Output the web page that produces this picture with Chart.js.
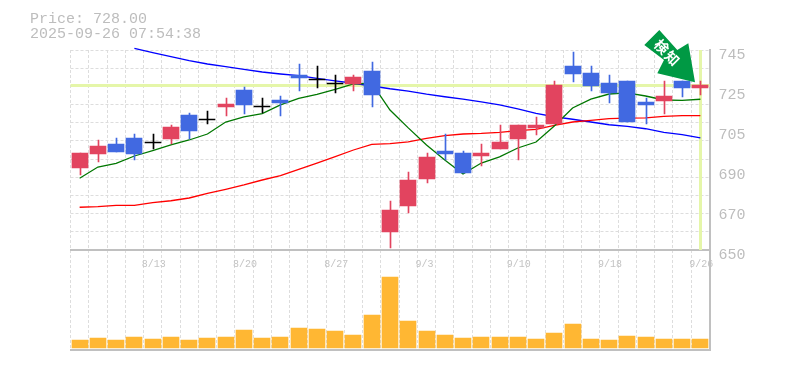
<!DOCTYPE html>
<html><head><meta charset="utf-8">
<style>html,body{margin:0;padding:0;background:#fff}#w{width:785px;height:370px;position:relative}</style>
<script src="https://cdn.jsdelivr.net/npm/chart.js@4"></script></head>
<body><div id="w"><canvas id="c" width="785" height="370"></canvas></div>
<script>
const categories=['8/6','8/7','8/8','8/12','8/13','8/14','8/15','8/18','8/19','8/20','8/21','8/22','8/25','8/26','8/27','8/28','8/29','9/1','9/2','9/3','9/4','9/5','9/8','9/9','9/10','9/11','9/12','9/16','9/17','9/18','9/19','9/22','9/24','9/25','9/26'];
const shownDates=['8/13','8/20','8/27','9/3','9/10','9/18','9/26'];
const open=[689,695.6,700.35,703.2,701.15,702.7,714.1,712.2,717.9,726,718.25,721.25,733.1,731.2,729.3,728.85,735,658.55,670.9,683.7,697,696.1,694.65,698,702.7,708,709.85,737.4,734,729.3,730.3,720.3,720.8,730.3,727];
const close=[696,699.4,696.55,695.6,701.15,708.4,706.5,712.2,719.35,718.9,718.25,719.8,731.7,731.2,729.3,732.2,723.6,669,683.25,694.2,695.6,686.6,696.1,701.3,709.4,709.4,728.4,733.6,727.9,724.6,710.8,718.9,723.15,727,728.4];
const high=[696,702.25,703.2,705.1,705.1,709.2,715.1,716,722.2,727.4,722.2,723.15,738.35,737.4,733.1,733.1,739.3,673.3,687,696,705.1,697,700.35,709.4,709.4,713.2,730.3,744,737.4,733.1,730.3,722.2,730.3,730.3,730.3];
const low=[685.5,691.8,696.55,692.75,698,700.35,702.7,709.85,713.65,714.6,715.1,713.65,725.5,726.95,724.7,725.5,717.9,651,667.6,681.8,692.75,686.6,689.9,698,692.75,704.6,709.85,729.8,725.5,719.8,710.8,709.85,714.6,722.7,723.6];
const maShort=[684.06,689.4,691.2,694.65,697.2,699.9,702.25,705.1,710.8,713.2,714.8,718.9,722.05,723.95,726.35,728.85,729.3,716.5,708,699.9,692.75,686.1,691.3,694.2,698.45,701.3,708.9,717.45,721.7,724.1,724.6,723.15,721.25,721.1,721.6];
const maMid=[670.3,670.6,671.2,671.2,672.5,673.4,674.7,676.9,678.8,680.9,683.25,685.3,688.3,691.3,694.3,697.5,700.2,700.5,701.4,703,704.3,705.1,705.4,705.9,706.7,707.3,709.2,710.8,711.6,712.4,712.6,712.8,713.5,713.8,713.8];
const maLong=[null,null,null,745.8,743.7,741.8,739.9,738.35,737.1,735.8,734.55,733.6,732.8,731.55,730.3,729.2,727.9,726.6,725.5,724,722.8,721.7,720.4,718.9,717,714.9,713.3,712.1,710.8,709.5,708.75,707.6,705.9,704.8,703.3];
const volume=[8,10,8,11,9,11,8,10,11,18,10,11,20,19,17,13,33,71,27,17,13,10,11,11,11,9,15,24,9,8,12,11,9,9,9];
const priceLabelTicks=[650,669,688,707,726,745];
const priceLabelText=['650','670','690','705','725','745'];
const priceGridLines=[0,1,2,3,4,5,6,7,8,9,10,11];
const priceMin=650,priceMax=745,lastPrice=728;
const titleLines=['Price: 728.00','2025-09-26 07:54:38'];
const badgeText=['検','知'];

const UP='#e2445f',DOWN='#4169e1',DOJI='#000000',GRID='#dddddd',AXIS='#c0c0c0',TXT='#bdbdbd',MARK='#e5f6a9';
const FONT='"Liberation Mono"';
const candleColor=categories.map((_,i)=>open[i]===close[i]?DOJI:(close[i]>open[i]?UP:DOWN));
const bodies=categories.map((_,i)=>open[i]===close[i]?[open[i]-0.24,open[i]+0.24]:[open[i],close[i]]);
const wicks=categories.map((_,i)=>[low[i],high[i]]);

const crisp={id:'crisp',afterDatasetsUpdate(ch){
  ch.data.datasets.forEach((d,i)=>{ if(d.type!=='bar')return;
    ch.getDatasetMeta(i).data.forEach(el=>{
      const odd=d.barThickness%2===1;
      el.x=Math.round(el.x)+(odd?0.5:0);
      el.y=Math.round(el.y); if(el.base!=null) el.base=Math.round(el.base);
    });});
}};
const marks={id:'marks',beforeDatasetsDraw(ch){
  const {ctx,chartArea:a,scales}=ch,y=scales.y,x=scales.x;
  ctx.save();ctx.fillStyle=MARK;
  ctx.fillRect(a.left,Math.round(y.getPixelForValue(lastPrice))-2,a.right-a.left,3);
  ctx.fillRect(Math.round(x.getPixelForValue(categories.length-1))-1,y.top,3,y.bottom-y.top);
  ctx.restore();
},afterDraw(ch){
  const ctx=ch.ctx;ctx.save();
  ctx.fillStyle='#bdbdbd';ctx.font='15px '+FONT;ctx.textBaseline='alphabetic';ctx.textAlign='left';
  titleLines.forEach((t,i)=>ctx.fillText(t,30,23+i*15));
  ctx.fillStyle='#009944';ctx.beginPath();
  [[659.3,30],[644.3,45],[664,60],[657.3,73.3],[695,82.3],[688.3,43.3],[677.3,50]].forEach((p,i)=>i?ctx.lineTo(p[0],p[1]):ctx.moveTo(p[0],p[1]));
  ctx.closePath();ctx.fill();
  ctx.fillStyle='#fff';ctx.font='bold 14px "Noto Sans CJK JP"';ctx.textAlign='center';ctx.textBaseline='middle';
  [[661.7,46.7],[672.3,58.3]].forEach((p,i)=>{ctx.save();ctx.translate(p[0],p[1]);ctx.rotate(Math.PI/4);ctx.fillText(badgeText[i],0,0);ctx.restore();});
  ctx.restore();
}};
new Chart(document.getElementById('c'),{
  data:{labels:categories,datasets:[
    {type:'line',data:maLong,borderColor:'#0000ff',borderWidth:1.3,pointRadius:0,yAxisID:'y',order:5,clip:false,spanGaps:false,tension:0},
    {type:'line',data:maMid,borderColor:'#ff0000',borderWidth:1.3,pointRadius:0,yAxisID:'y',order:4,tension:0},
    {type:'line',data:maShort,borderColor:'#007700',borderWidth:1.3,pointRadius:0,yAxisID:'y',order:3,tension:0},
    {type:'bar',data:wicks,backgroundColor:candleColor,barThickness:1,grouped:false,yAxisID:'y',order:2,borderSkipped:false},
    {type:'bar',data:bodies,backgroundColor:candleColor,barThickness:16,grouped:false,yAxisID:'y',order:1,borderSkipped:false},
    {type:'bar',data:volume,backgroundColor:'#ffb733',barThickness:16,grouped:false,yAxisID:'yVol',order:6}
  ]},
  options:{responsive:false,animation:false,events:[],
    layout:{padding:{left:70.5,top:50,right:0,bottom:20}},
    plugins:{legend:{display:false},tooltip:{enabled:false},title:{display:false}},
    scales:{
      x:{type:'category',position:{y:priceMin},offset:true,
        grid:{offset:true,color:GRID,lineWidth:1,drawTicks:false},
        border:{display:true,color:AXIS,width:2,dash:[3,2]},
        ticks:{autoSkip:false,maxRotation:0,minRotation:0,align:'start',padding:8,labelOffset:-11,color:'#c4c4c4',font:{family:FONT,size:10},
          callback(v){const s=this.getLabelForValue(v);return shownDates.includes(s)?s:'';}}},
      xBase:{type:'category',position:'bottom',offset:true,labels:categories,afterFit(s){s.height=0;},
        grid:{display:false,drawTicks:false},ticks:{display:false},border:{display:true,color:AXIS,width:2}},
      y:{type:'linear',position:'right',stack:'p',stackWeight:2,min:priceMin,max:priceMax,afterFit(s){s.width=75.5;},
        afterBuildTicks(s){
          const gridTicks=priceGridLines.map(i=>({value:priceMin+i*(priceMax-priceMin)/11,g:true}));
          const lab=priceLabelTicks.map((v,i)=>({value:v,t:priceLabelText[i]}));
          s.ticks=gridTicks.concat(lab).sort((a,b)=>a.value-b.value);
        },
        grid:{drawTicks:false,lineWidth:1,color(c){return c.tick&&c.tick.g?GRID:'rgba(0,0,0,0)';}},
        border:{display:true,color:AXIS,width:2,dash:[3,2]},
        ticks:{autoSkip:false,padding:9,labelOffset:5,color:TXT,font:{family:FONT,size:15},
          callback(v,i,ts){return ts[i].t||'';}}},
      yVol:{type:'linear',position:'right',stack:'p',stackWeight:1,min:-2,max:98,afterFit(s){s.width=75.5;},
        grid:{display:false,drawTicks:false},border:{display:true,color:AXIS,width:2},ticks:{display:false}}
    }
  },
  plugins:[crisp,marks]
});
</script></body></html>
